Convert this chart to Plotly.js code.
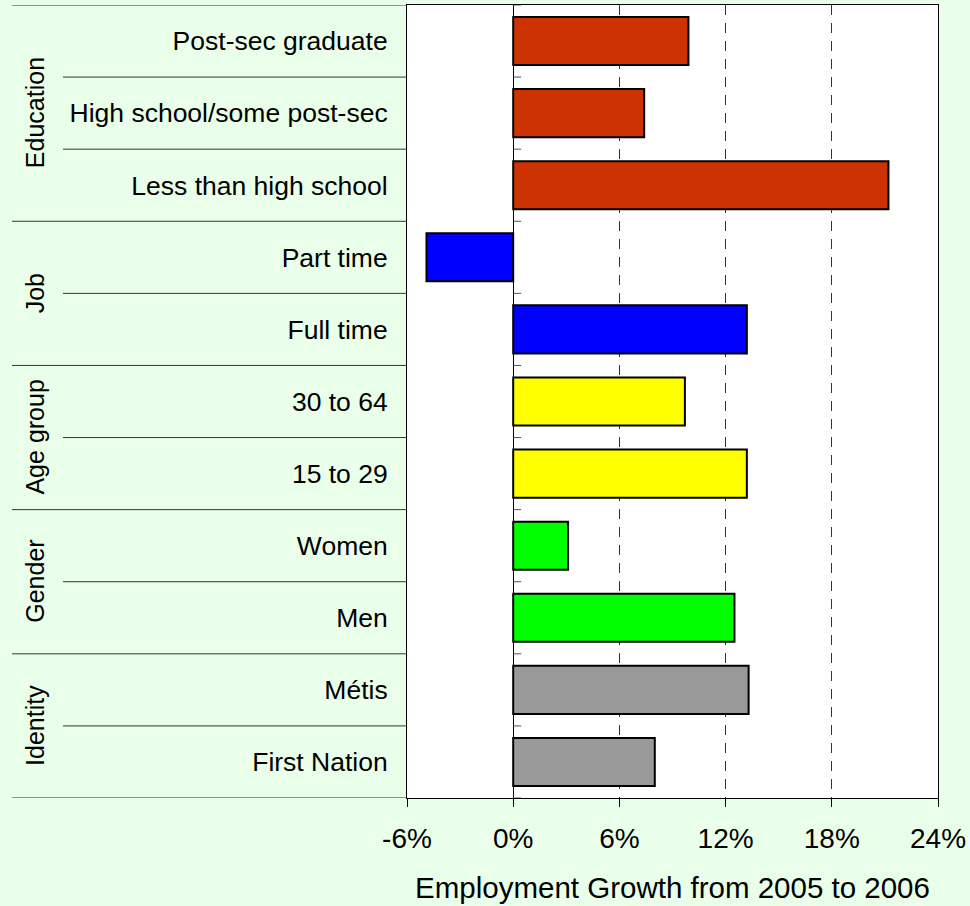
<!DOCTYPE html>
<html><head><meta charset="utf-8">
<script src="https://cdn.plot.ly/plotly-3.0.1.min.js"></script>
<style>html,body{margin:0;padding:0;background:#EAFFEA;}</style>
</head><body><div id="chart" style="width:970px;height:906px;"></div>
<script>
// Data (bottom to top)
const categories = ["First Nation","Métis","Men","Women","15 to 29","30 to 64","Full time","Part time","Less than high school","High school/some post-sec","Post-sec graduate"];
const groups = ["Identity","Identity","Gender","Gender","Age group","Age group","Job","Job","Education","Education","Education"];
const values = [8.0, 13.3, 12.5, 3.1, 13.2, 9.7, 13.2, -4.9, 21.2, 7.4, 9.9];
const groupNames = ["Identity","Gender","Age group","Job","Education"];
const xTicks = [-6, 0, 6, 12, 18, 24];
const xTickLabels = ["-6%","0%","6%","12%","18%","24%"];
const xTitle = "Employment Growth from 2005 to 2006";

// Styles
const groupColors = {"Identity":"#999999","Gender":"#00FF00","Age group":"#FFFF00","Job":"#0000FF","Education":"#CC3300"};
const BG = "#EAFFEA";
const FONT = "Liberation Sans, Arial, sans-serif";

const W = 970, H = 906;
const M = {l: 407, r: 32, t: 5, b: 108};
const plotW = W - M.l - M.r;
const px2paper = p => (p - M.l) / plotW;

const shapes = [];
const annotations = [];
// separators at category boundaries
for (let i = -1; i < categories.length; i++) {
  const yb = i + 0.5;
  const isGroupBoundary = (i === -1) || (i === categories.length - 1) || groups[i] !== groups[i + 1];
  shapes.push({type: "line", xref: "paper", yref: "y", x0: px2paper(isGroupBoundary ? 12 : 63), x1: 0, y0: yb, y1: yb,
    line: {color: "#333333", width: 1}, layer: "below"});
  // small ticks on the zero axis
  shapes.push({type: "line", xref: "x", yref: "y", x0: 0, x1: 8 / (plotW / (xTicks[xTicks.length-1] - xTicks[0])), y0: yb, y1: yb,
    line: {color: "#555555", width: 1}, layer: "above"});
}
// group labels
groupNames.forEach(g => {
  const idx = groups.map((v, i) => v === g ? i : -1).filter(i => i >= 0);
  const c = idx.reduce((a, b) => a + b, 0) / idx.length;
  annotations.push({xref: "paper", yref: "y", x: px2paper(35), y: c, text: g, showarrow: false, textangle: -90,
    xanchor: "center", yanchor: "middle", font: {family: FONT, size: 25, color: "#000"}});
});

const trace = {
  type: "bar", orientation: "h",
  y: categories, x: values,
  marker: {color: groups.map(g => groupColors[g]), line: {color: "#000", width: 2}},
  hoverinfo: "none"
};

const layout = {
  width: W, height: H,
  margin: M,
  paper_bgcolor: BG, plot_bgcolor: "#FFFFFF",
  showlegend: false,
  bargap: 0.333,
  font: {family: FONT, color: "#000"},
  xaxis: {
    range: [xTicks[0], xTicks[xTicks.length - 1]],
    tickmode: "array", tickvals: xTicks, ticktext: xTickLabels,
    ticks: "outside", ticklen: 8, tickcolor: "#000", tickwidth: 1,
    ticklabelstandoff: 7,
    showgrid: true, gridcolor: "#333333", griddash: "10px,8px", gridwidth: 1,
    zeroline: true, zerolinecolor: "#000", zerolinewidth: 1,
    showline: true, linecolor: "#000", linewidth: 1, mirror: true,
    tickfont: {family: FONT, size: 28, color: "#000"},
    title: {text: xTitle, font: {family: FONT, size: 29.5, color: "#000"}, standoff: 24},
    fixedrange: true
  },
  yaxis: {
    type: "category", categoryorder: "array", categoryarray: categories,
    range: [-0.5, categories.length - 0.5],
    ticks: "", showgrid: false, zeroline: false,
    showline: true, linecolor: "#000", linewidth: 1, mirror: true,
    ticklabelstandoff: 13,
    tickfont: {family: FONT, size: 26.5, color: "#000"},
    fixedrange: true
  },
  shapes: shapes,
  annotations: annotations
};

Plotly.newPlot("chart", [trace], layout, {staticPlot: true, displayModeBar: false});
</script>
</body></html>
